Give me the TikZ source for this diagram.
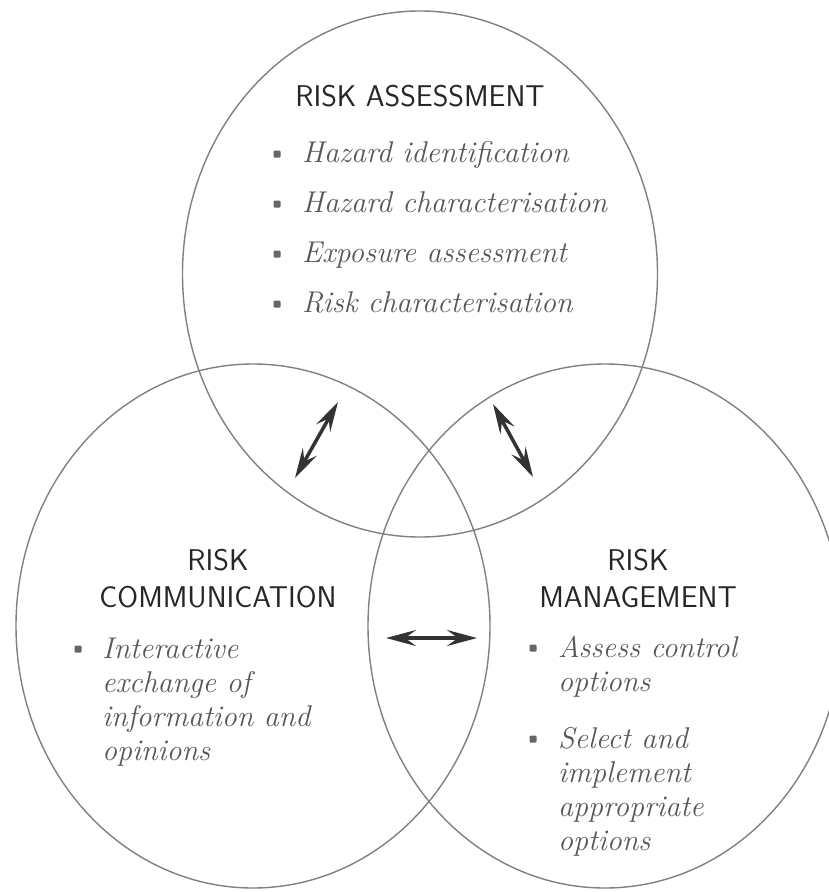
\documentclass[tikz,border=0pt]{standalone}
\usepackage{tikz}
\usetikzlibrary{arrows.meta, positioning}

\tikzset{
  setline/.style={draw=black!50, line width=1.4pt},
  heading/.style={font=\sffamily\fontsize{30}{37}\selectfont, text=black!85, anchor=base, align=center, inner sep=0pt},
  bul/.style={rectangle, rounded corners=1pt, fill=black!60, inner sep=0pt, minimum size=7pt},
  itemtext/.style={font=\itshape\fontsize{30}{34}\selectfont, text=black!66, anchor=base west, align=left, inner sep=0pt},
  twoway/.style={{Stealth[length=30pt,width=16pt,inset=11pt]}-{Stealth[length=30pt,width=16pt,inset=11pt]}, line width=3.5pt, draw=black!80},
}

\begin{document}
\begin{tikzpicture}[x=1pt, y=-1pt]
	\useasboundingbox (0,0) rectangle (828,892);
	\coordinate (arc1) at (338,402);
	\coordinate (arc2) at (295,478);
	\coordinate (arm1) at (493,404);
	\coordinate (arm2) at (533,477);
	\coordinate (crm1) at (386,638);
	\coordinate (crm2) at (477,638);

	% the three sets
	\draw[setline] (420,274) ellipse (237.5pt and 263pt);
	\draw[setline] (253,626) ellipse (237pt and 262pt);
	\draw[setline] (605,626) ellipse (237pt and 262pt);

	% risk assessment
	\node[heading] (ra) at (420,106) {RISK ASSESSMENT};
	\node[bul] (b1) at (277,154) {};
	\node[itemtext] (hz1) at (302,162) {Hazard identification};
	\node[bul] (b2) at (277,204) {};
	\node[itemtext] (hz2) at (302,212) {Hazard characterisation};
	\node[bul] (b3) at (277,254) {};
	\node[itemtext] (exa) at (302,262) {Exposure assessment};
	\node[bul] (b4) at (277,304) {};
	\node[itemtext] (rch) at (302,312) {Risk characterisation};

	% risk communication (base = last line)
	\node[heading] (rc) at (218,607) {RISK\\COMMUNICATION};
	\node[bul] (b5) at (78,649) {};
	\node[itemtext] (iex) at (102,760) {Interactive\\exchange of\\information and\\opinions};

	% risk management
	\node[heading] (rm) at (638,607) {RISK\\MANAGEMENT};
	\node[bul] (b6) at (533,648) {};
	\node[itemtext] (aco) at (558,691) {Assess control\\options};
	\node[bul] (b7) at (533,739) {};
	\node[itemtext] (sio) at (558,850) {Select and\\implement\\appropriate\\options};

	% two way arrows
	\draw[twoway] (arc2) -- (arc1);
	\draw[twoway] (arm1) -- (arm2);
	\draw[twoway] (crm1) -- (crm2);
\end{tikzpicture}
\end{document}
